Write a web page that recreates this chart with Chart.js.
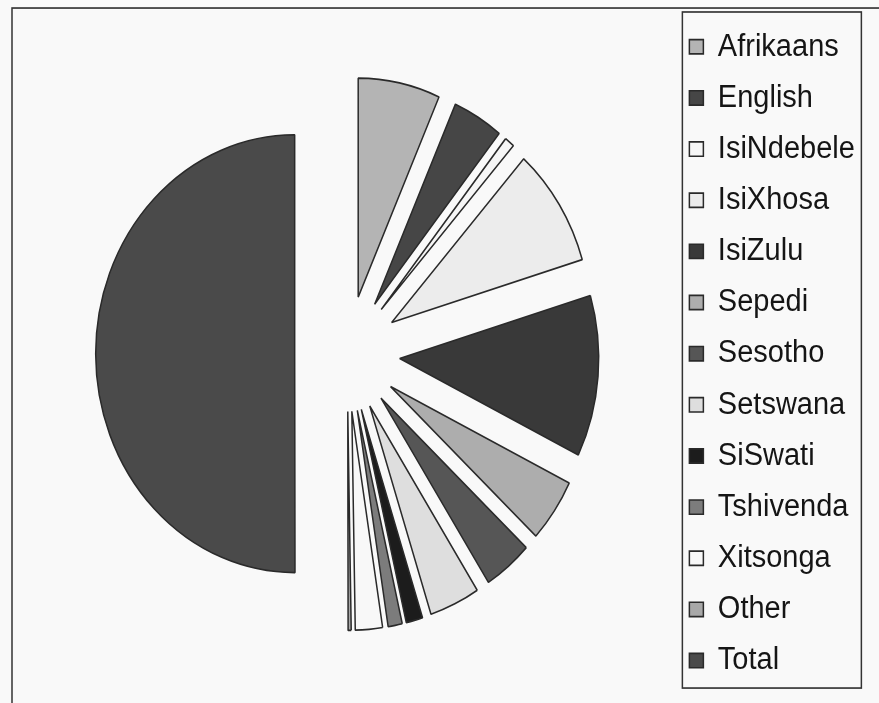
<!DOCTYPE html>
<html>
<head>
<meta charset="utf-8">
<script src="https://cdn.jsdelivr.net/npm/chart.js@4/dist/chart.umd.min.js"></script>
<style>
  html, body { margin: 0; padding: 0; background: #f9f9f9; }
</style>
</head>
<body>
<canvas id="langPie" width="879" height="703"></canvas>
<script>
// home language shares (%), last slice is the total
const languages = ['Afrikaans', 'English', 'IsiNdebele', 'IsiXhosa', 'IsiZulu', 'Sepedi',
  'Sesotho', 'Setswana', 'SiSwati', 'Tshivenda', 'Xitsonga', 'Other', 'Total'];
const shares = [13.3, 8.2, 1.6, 17.6, 23.8, 9.4, 7.9, 8.2, 2.7, 2.3, 4.4, 0.5, 100];

const fills = ['#b4b4b4', '#464646', '#f6f6f6', '#ececec', '#393939', '#adadad',
  '#565656', '#dedede', '#1c1c1c', '#7c7c7c', '#f8f8f8', '#a8a8a8', '#4a4a4a'];

const STRETCH = 1.1;   // the original is a bit taller than wide
const PUSH = 52.6;     // how far every slice is pulled out
const RADIUS = 199;

// Chart.js' own offset also narrows and grows the arcs, so pull the slices out by hand:
// every arc keeps its angles and radius, only its centre moves along the mid angle
const explode = {
  id: 'explode',
  afterDatasetsUpdate(chart) {
    chart.getDatasetMeta(0).data.forEach(arc => {
      const mid = (arc.startAngle + arc.endAngle) / 2;
      arc.x += Math.cos(mid) * PUSH;
      arc.y += Math.sin(mid) * PUSH;
    });
  }
};

const frames = {
  id: 'frames',
  beforeDraw(chart) {
    const c = chart.ctx;
    c.save();
    c.fillStyle = '#f9f9f9';
    c.fillRect(0, 0, chart.width, chart.height);
    c.scale(1, STRETCH);
  },
  afterDraw(chart) {
    const c = chart.ctx;
    const lg = chart.legend;
    c.strokeStyle = '#333';
    c.lineWidth = 1.5;
    c.strokeRect(12, 7.3, 900, 700);
    c.strokeRect(lg.left + 10.5, 10.9, 179, 614.6);
    c.restore();
  }
};

const ctx = document.getElementById('langPie').getContext('2d');
const langChart = new Chart(ctx, {
  type: 'pie',
  data: {
    labels: languages,
    datasets: [{
      data: shares,
      backgroundColor: fills,
      borderColor: '#2a2a2a',
      borderWidth: 1.5,
      radius: RADIUS,
      clip: false,
    }],
  },
  options: {
    responsive: false,
    animation: false,
    layout: {
      padding: { left: 22.7, right: 14.1, top: 4, bottom: 64 },
    },
    plugins: {
      legend: {
        position: 'right',
        align: 'center',
        labels: {
          color: '#151515',
          boxWidth: 14,
          boxHeight: 13,
          padding: 17.5,
          font: { family: 'Liberation Sans', size: 29 },
        },
      },
      tooltip: { enabled: false },
    },
  },
  plugins: [explode, frames],
});
</script>
</body>
</html>
